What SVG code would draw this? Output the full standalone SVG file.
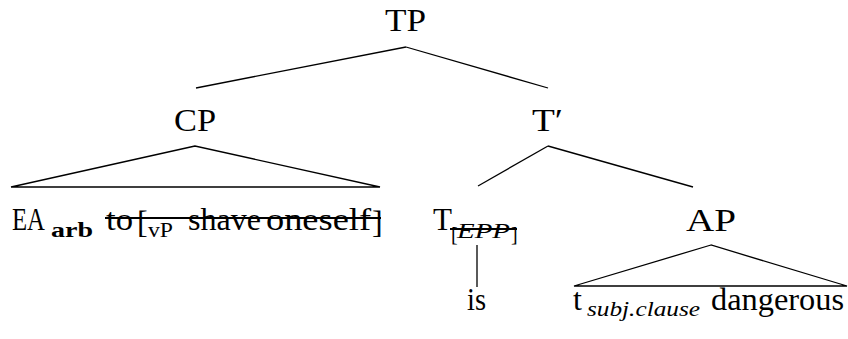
<svg xmlns="http://www.w3.org/2000/svg" width="848" height="339" viewBox="0 0 848 339">
<style>
text{font-family:"Liberation Serif","Times New Roman",serif;fill:#000}
.n{font-size:32px}
.t{font-size:32px}
.s{font-size:20px}
.b{font-weight:bold;font-size:21px}
.i{font-style:italic}
.e{stroke:#000;stroke-width:1.3;fill:none}
.k{stroke:#000;stroke-width:2;fill:none}
</style>
<rect width="848" height="339" fill="#fff"/>
<g id="connectors">
<line class="e" x1="406" y1="47" x2="196" y2="88"/>
<line class="e" x1="406" y1="47" x2="548" y2="88"/>
<polygon class="e" points="195,146 11,187 380,187"/>
<line class="e" x1="548" y1="146" x2="478" y2="186"/>
<line class="e" x1="548" y1="146" x2="693" y2="187"/>
<line class="e" x1="477" y1="245" x2="477" y2="287" stroke="#555"/>
<polygon class="e" points="711,245 574,286 847,286"/>
</g>
<g id="TP"><text class="n" x="385" y="31" textLength="41" lengthAdjust="spacingAndGlyphs">TP</text></g>
<g id="CP"><text class="n" x="174" y="131" textLength="42" lengthAdjust="spacingAndGlyphs">CP</text></g>
<g id="Tbar"><text class="n" x="532" y="131" textLength="31" lengthAdjust="spacingAndGlyphs">T′</text></g>
<g id="CPyield">
<text class="t" x="12" y="230" textLength="33" lengthAdjust="spacingAndGlyphs">EA</text>
<text class="b" x="51" y="237" textLength="42" lengthAdjust="spacingAndGlyphs">arb</text>
<text class="t" x="106" y="230" textLength="27" lengthAdjust="spacingAndGlyphs">to</text>
<text class="t" x="137" y="233">[</text>
<text class="s" x="148" y="237" textLength="25" lengthAdjust="spacingAndGlyphs">vP</text>
<text class="t" x="188" y="230" textLength="73" lengthAdjust="spacingAndGlyphs">shave</text>
<text class="t" x="266" y="230" textLength="105" lengthAdjust="spacingAndGlyphs">oneself</text>
<text class="t" x="372" y="233">]</text>
<line class="k" x1="105" y1="218" x2="381" y2="218"/>
</g>
<g id="T">
<text class="t" x="433" y="230" textLength="19" lengthAdjust="spacingAndGlyphs">T</text>
<text class="s" x="451" y="241">[</text>
<text class="s i" x="457" y="238" textLength="53" lengthAdjust="spacingAndGlyphs">EPP</text>
<text class="s" x="511" y="241">]</text>
<line class="k" x1="450" y1="229" x2="517" y2="229"/>
</g>
<g id="AP"><text class="n" x="686" y="231" textLength="50" lengthAdjust="spacingAndGlyphs">AP</text></g>
<g id="is"><text class="n" x="467" y="310" textLength="19" lengthAdjust="spacingAndGlyphs">is</text></g>
<g id="APyield">
<text class="t" x="573" y="310">t</text>
<text class="s i" x="587" y="316" textLength="113" lengthAdjust="spacingAndGlyphs">subj.clause</text>
<text class="t" x="711" y="310" textLength="133" lengthAdjust="spacingAndGlyphs">dangerous</text>
</g>
</svg>
